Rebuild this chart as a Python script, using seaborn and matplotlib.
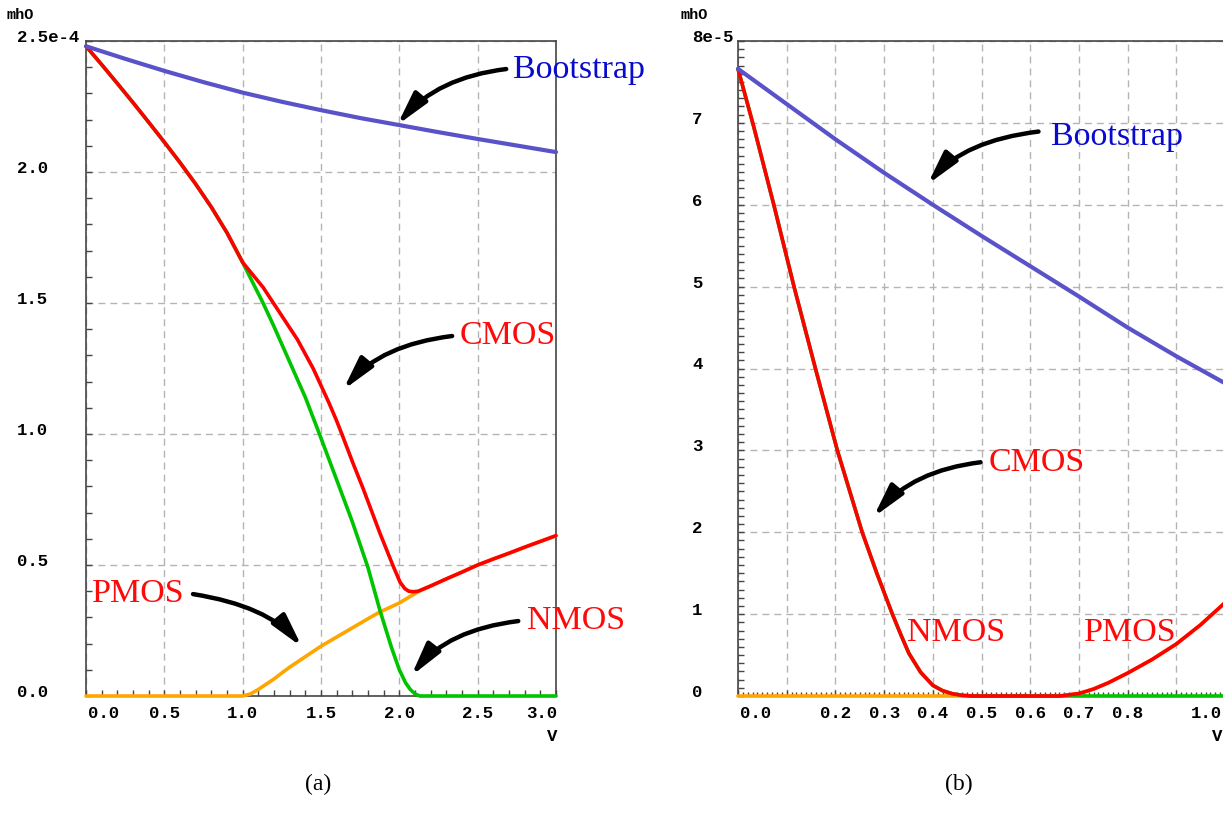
import numpy as np
import matplotlib
matplotlib.use("Agg")
import matplotlib.pyplot as plt
import matplotlib.transforms as mtransforms
from matplotlib.ticker import MultipleLocator
import seaborn as sns

# ---------------- panel (a): 0 .. 3 V, conductance in units of 1e-4 mhO
v_boot_a = [0.0, 0.25, 0.5, 0.75, 1.0, 1.25, 1.5, 1.75, 2.0, 2.25, 2.5, 2.75, 3.0]
g_boot_a = [2.48, 2.432, 2.386, 2.343, 2.303, 2.268, 2.236, 2.206, 2.179, 2.152, 2.126, 2.101, 2.076]

v_cmos_a = [0.0, 0.1, 0.2, 0.3, 0.4, 0.5, 0.6, 0.7, 0.8, 0.9, 1.0, 1.13, 1.24, 1.35, 1.45,
            1.5, 1.55, 1.6, 1.633, 1.7, 1.77, 1.877, 1.962, 2.005, 2.035, 2.06, 2.09, 2.12,
            2.2, 2.3, 2.4, 2.5, 2.6, 2.7, 2.8, 2.9, 3.0]
g_cmos_a = [2.48, 2.41, 2.338, 2.265, 2.19, 2.114, 2.036, 1.954, 1.866, 1.768, 1.655, 1.56, 1.46, 1.36, 1.25,
            1.185, 1.12, 1.05, 1.0, 0.895, 0.79, 0.62, 0.494, 0.434, 0.41, 0.40, 0.398, 0.40,
            0.42, 0.447, 0.473, 0.50, 0.523, 0.545, 0.568, 0.59, 0.612]

v_nmos_a = [0.0, 0.1, 0.2, 0.3, 0.4, 0.5, 0.6, 0.7, 0.8, 0.9, 1.0, 1.05, 1.13, 1.2, 1.3,
            1.4, 1.49, 1.6, 1.7, 1.8, 1.877, 1.95, 2.0, 2.04, 2.07, 2.1, 2.13, 3.0]
g_nmos_a = [2.48, 2.41, 2.338, 2.265, 2.19, 2.114, 2.036, 1.954, 1.866, 1.768, 1.655, 1.595, 1.50, 1.41, 1.275,
            1.14, 1.00, 0.825, 0.665, 0.49, 0.325, 0.185, 0.10, 0.05, 0.025, 0.008, 0.0, 0.0]

v_pmos_a = [0.0, 1.0, 1.05, 1.1, 1.2, 1.25, 1.3, 1.4, 1.5, 1.6, 1.7, 1.8, 1.874, 2.0, 2.12,
            2.2, 2.3, 2.4, 2.5, 2.6, 2.7, 2.8, 2.9, 3.0]
g_pmos_a = [0.0, 0.0, 0.008, 0.025, 0.065, 0.088, 0.11, 0.15, 0.19, 0.225, 0.26, 0.295, 0.32, 0.355, 0.398,
            0.42, 0.447, 0.473, 0.50, 0.523, 0.545, 0.568, 0.59, 0.612]

# ---------------- panel (b): 0 .. 1 V, conductance in units of 1e-5 mhO
v_boot_b = [0.0, 0.1, 0.2, 0.3, 0.4, 0.5, 0.6, 0.7, 0.8, 0.9, 1.0]
g_boot_b = [7.66, 7.23, 6.80, 6.39, 6.00, 5.62, 5.25, 4.88, 4.50, 4.15, 3.82]

v_cmos_b = [0.0, 0.032, 0.0735, 0.115, 0.159, 0.204, 0.255, 0.285, 0.317, 0.335, 0.351, 0.375,
            0.40, 0.42, 0.44, 0.46, 0.48, 0.66, 0.70, 0.73, 0.76, 0.80, 0.85, 0.90, 0.95, 1.0]
g_cmos_b = [7.66, 6.96, 6.0, 5.0, 4.0, 3.0, 2.0, 1.5, 1.0, 0.74, 0.52, 0.29,
            0.13, 0.065, 0.028, 0.008, 0.0, 0.0, 0.03, 0.085, 0.16, 0.28, 0.445, 0.635, 0.87, 1.14]

v_nmos_b = [0.0, 0.032, 0.0735, 0.115, 0.159, 0.204, 0.255, 0.285, 0.317, 0.335, 0.351, 0.375,
            0.40, 0.42, 0.44, 0.46, 0.48, 1.0]
g_nmos_b = [7.66, 6.96, 6.0, 5.0, 4.0, 3.0, 2.0, 1.5, 1.0, 0.74, 0.52, 0.29,
            0.13, 0.065, 0.028, 0.008, 0.0, 0.0]

v_pmos_b = [0.0, 0.66, 0.70, 0.73, 0.76, 0.80, 0.85, 0.90, 0.95, 1.0]
g_pmos_b = [0.0, 0.0, 0.03, 0.085, 0.16, 0.28, 0.445, 0.635, 0.87, 1.14]

# tick labels
xt_a = [0.0, 0.5, 1.0, 1.5, 2.0, 2.5, 3.0]
xl_a = ["0.0", "0.5", "1.0", "1.5", "2.0", "2.5", "3.0"]
yt_a = [0.0, 0.5, 1.0, 1.5, 2.0, 2.5]
yl_a = ["0.0", "0.5", "1.0", "1.5", "2.0", "2.5e-4"]
xt_b = [0.0, 0.2, 0.3, 0.4, 0.5, 0.6, 0.7, 0.8, 1.0]
xl_b = ["0.0", "0.2", "0.3", "0.4", "0.5", "0.6", "0.7", "0.8", "1.0"]
yt_b = [0, 1, 2, 3, 4, 5, 6, 7, 8]
yl_b = ["0", "1", "2", "3", "4", "5", "6", "7", "8e-5"]

BLUE = "#5a52c8"
RED = "#ff0000"
GREEN = "#00c400"
ORANGE = "#ffa500"
TXT_RED = "#ff0a0a"
TXT_BLUE = "#0a0acc"
AXC = "#454545"
GRIDC = "#b4b4b4"

sns.set_style("white")
plt.rcParams["font.family"] = ["DejaVu Sans"]

W, H = 1223, 829
DPI = 100
fig = plt.figure(figsize=(W / DPI, H / DPI), dpi=DPI)
fig.patch.set_facecolor("white")

ax_a = fig.add_axes([86 / W, (H - 697) / H, (556 - 86) / W, (697 - 42) / H])
ax_b = fig.add_axes([738 / W, (H - 697) / H, (1225 - 738) / W, (697 - 42) / H])

TICKFONT = dict(family="Liberation Mono", weight="bold", size=12.5, color="black")
SERIF = dict(family="Liberation Serif", size=24.5)


def px(dx, dy=0.0):
    return mtransforms.ScaledTranslation(dx / DPI, dy / DPI, fig.dpi_scale_trans)


def style_axes(ax, xmax, ymax, xmaj, xmin, ymaj, ymin, xminlen):
    ax.set_xlim(0, xmax)
    ax.set_ylim(0, ymax)
    ax.xaxis.set_major_locator(MultipleLocator(xmaj))
    ax.xaxis.set_minor_locator(MultipleLocator(xmin))
    ax.yaxis.set_major_locator(MultipleLocator(ymaj))
    ax.yaxis.set_minor_locator(MultipleLocator(ymin))
    ax.grid(True, which="major", color=GRIDC, linestyle=(0, (5, 3.6)), linewidth=1.0)
    ax.set_axisbelow(True)
    ax.tick_params(which="both", direction="in", color=AXC, width=1.0,
                   labelbottom=False, labelleft=False, top=False, right=False,
                   bottom=True, left=True)
    ax.tick_params(axis="y", which="both", length=4.5)
    ax.tick_params(axis="x", which="both", length=xminlen)
    for s in ax.spines.values():
        s.set_color(AXC)
        s.set_linewidth(1.2)
    ax.set_xlabel("")
    ax.set_ylabel("")


def tick_text(ax, xt, xl, yt, yl, ylab_dx, right_dx):
    tx = ax.get_xaxis_transform()
    for i, (v, s) in enumerate(zip(xt, xl)):
        if i == 0:
            ax.text(v, 0, s, ha="left", va="baseline", transform=tx + px(2, -21), **TICKFONT)
        elif i == len(xt) - 1:
            ax.text(v, 0, s, ha="right", va="baseline", transform=tx + px(right_dx, -21), **TICKFONT)
        else:
            ax.text(v, 0, s, ha="center", va="baseline", transform=tx + px(0, -21), **TICKFONT)
    ty = ax.get_yaxis_transform()
    for v, s in zip(yt, yl):
        ax.text(0, v, s, ha="left", va="baseline", transform=ty + px(ylab_dx, 0), **TICKFONT)
    # voltage unit under the x axis
    ax.text(1, 0, "V", ha="right", va="baseline",
            transform=ax.transAxes + px(right_dx, -44), **TICKFONT)


def arrow(ax, tail, tip, angA, angB):
    ax.annotate("", xy=tip, xytext=tail, annotation_clip=False,
                arrowprops=dict(arrowstyle="-|>,head_length=0.8,head_width=0.2",
                                connectionstyle=f"angle3,angleA={angA},angleB={angB}",
                                lw=3.2, color="black", shrinkA=0, shrinkB=0,
                                mutation_scale=25))


LW = 2.6

# ---------------- panel (a)
style_axes(ax_a, 3.0, 2.5, 0.5, 0.1, 0.5, 0.1, 4.5)
sns.lineplot(x=v_pmos_a, y=g_pmos_a, ax=ax_a, color=ORANGE, linewidth=LW, clip_on=False, zorder=3)
sns.lineplot(x=v_nmos_a, y=g_nmos_a, ax=ax_a, color=GREEN, linewidth=LW, clip_on=False, zorder=4)
sns.lineplot(x=v_cmos_a, y=g_cmos_a, ax=ax_a, color=RED, linewidth=LW, clip_on=False, zorder=5)
sns.lineplot(x=v_boot_a, y=g_boot_a, ax=ax_a, color=BLUE, linewidth=3.0, clip_on=False, zorder=6)
ax_a.set_xlim(0, 3.0)
ax_a.set_ylim(0, 2.5)
tick_text(ax_a, xt_a, xl_a, yt_a, yl_a, 17 - 86, 1)

ax_a.text(2.727, 2.363, "Bootstrap", color=TXT_BLUE, ha="left", va="baseline", **SERIF)
ax_a.text(2.382, 1.347, "CMOS", color=TXT_RED, ha="left", va="baseline", **SERIF)
ax_a.text(0.036, 0.364, "PMOS", color=TXT_RED, ha="left", va="baseline", **SERIF)
ax_a.text(2.813, 0.260, "NMOS", color=TXT_RED, ha="left", va="baseline", **SERIF)

arrow(ax_a, (2.682, 2.393), (1.986, 2.179), 7, 50)
arrow(ax_a, (2.337, 1.374), (1.641, 1.168), 7, 50)
arrow(ax_a, (0.683, 0.389), (1.379, 0.187), -9, 130)
arrow(ax_a, (2.759, 0.286), (2.075, 0.076), 7, 52)

# ---------------- panel (b)
style_axes(ax_b, 1.0, 8.0, 0.1, 0.01, 1.0, 0.1, 3.0)
ax_b.tick_params(axis="x", which="major", length=4.5)
sns.lineplot(x=v_pmos_b, y=g_pmos_b, ax=ax_b, color=ORANGE, linewidth=LW, clip_on=False, zorder=3)
sns.lineplot(x=v_nmos_b, y=g_nmos_b, ax=ax_b, color=GREEN, linewidth=LW, clip_on=False, zorder=4)
sns.lineplot(x=v_cmos_b, y=g_cmos_b, ax=ax_b, color=RED, linewidth=LW, clip_on=False, zorder=5)
sns.lineplot(x=v_boot_b, y=g_boot_b, ax=ax_b, color=BLUE, linewidth=3.0, clip_on=False, zorder=6)
ax_b.set_xlim(0, 1.0)
ax_b.set_ylim(0, 8.0)
tick_text(ax_b, xt_b, xl_b, yt_b, yl_b, 692 - 738, -3)

ax_b.text(0.642, 6.736, "Bootstrap", color=TXT_BLUE, ha="left", va="baseline", **SERIF)
ax_b.text(0.515, 2.758, "CMOS", color=TXT_RED, ha="left", va="baseline", **SERIF)
ax_b.text(0.347, 0.687, "NMOS", color=TXT_RED, ha="left", va="baseline", **SERIF)
ax_b.text(0.710, 0.687, "PMOS", color=TXT_RED, ha="left", va="baseline", **SERIF)

arrow(ax_b, (0.617, 6.894), (0.389, 6.248), 7, 50)
arrow(ax_b, (0.498, 2.855), (0.278, 2.184), 7, 50)

# units above the y axes
fig.text(7 / W, 1 - 19 / H, "mhO", ha="left", va="baseline",
         family="Liberation Mono", weight="bold", size=11, color="black")
fig.text(681 / W, 1 - 19 / H, "mhO", ha="left", va="baseline",
         family="Liberation Mono", weight="bold", size=11, color="black")

# sub-figure captions
fig.text(318 / W, 1 - 790 / H, "(a)", ha="center", va="baseline",
         family="Liberation Serif", size=17, color="black")
fig.text(959 / W, 1 - 790 / H, "(b)", ha="center", va="baseline",
         family="Liberation Serif", size=17, color="black")

fig.savefig("out.png", dpi=DPI, facecolor="white")
